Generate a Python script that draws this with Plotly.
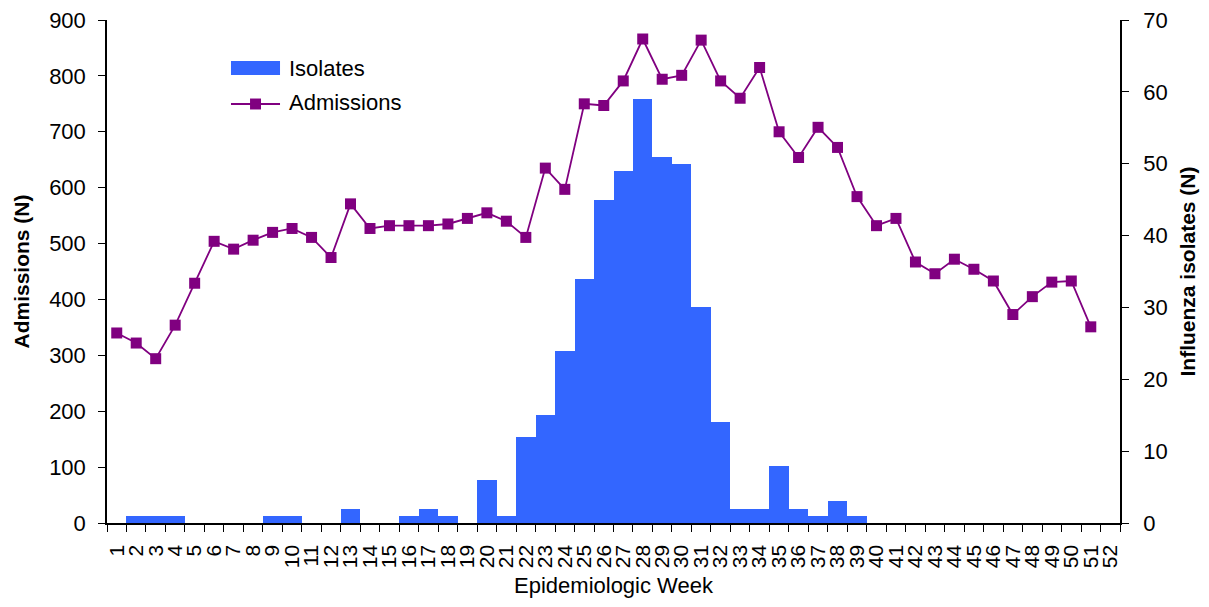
import plotly.graph_objects as go

weeks = [str(i) for i in range(1, 53)]

isolates = [0, 1, 1, 1, 0, 0, 0, 0, 1, 1,
            0, 0, 2, 0, 0, 1, 2, 1, 0, 6,
            1, 12, 15, 24, 34, 45, 49, 59, 51, 50,
            30, 14, 2, 2, 8, 2, 1, 3, 1, 0,
            0, 0, 0, 0, 0, 0, 0, 0, 0, 0,
            0, 0]

admissions = [340, 322, 294, 354, 429, 504, 490, 506, 520, 527,
              511, 475, 571, 527, 532, 532, 532, 535, 545, 555,
              540, 511, 635, 597, 750, 747, 791, 866, 794, 801,
              864, 791, 760, 815, 700, 654, 708, 672, 584, 532,
              545, 467, 446, 472, 454, 433, 373, 405, 431, 433,
              351, None]

FONT = "Liberation Sans, Arial, sans-serif"
BLUE = "#3366FF"
PURPLE = "#800080"

fig = go.Figure()
fig.add_trace(go.Bar(
    x=weeks, y=isolates, name="Isolates",
    marker=dict(color=BLUE, line=dict(width=0)),
    yaxis="y", showlegend=False,
))
fig.add_trace(go.Scatter(
    x=weeks, y=admissions, name="Admissions", mode="lines+markers",
    line=dict(color=PURPLE, width=1.8),
    marker=dict(symbol="square", size=11, color=PURPLE),
    yaxis="y2", showlegend=False,
))

# custom legend (paper coordinates)
lx0, lx1 = 0.1224, 0.1708
lxm = (lx0 + lx1) / 2
shapes = [
    dict(type="rect", xref="paper", yref="paper", x0=lx0, x1=lx1, y0=0.8907, y1=0.9185,
         fillcolor=BLUE, line=dict(width=0)),
    dict(type="line", xref="paper", yref="paper", x0=lx0, x1=lx1, y0=0.833, y1=0.833,
         line=dict(color=PURPLE, width=1.8)),
    dict(type="rect", xref="paper", yref="paper", x0=lxm - 0.0054, x1=lxm + 0.0054,
         y0=0.833 - 0.0109, y1=0.833 + 0.0109, fillcolor=PURPLE, line=dict(width=0)),
]
annotations = [
    dict(text="Isolates", xref="paper", yref="paper", x=0.1777, y=0.9026,
         xanchor="left", yanchor="middle", showarrow=False, font=dict(size=22, family=FONT)),
    dict(text="Admissions", xref="paper", yref="paper", x=0.1777, y=0.835,
         xanchor="left", yanchor="middle", showarrow=False, font=dict(size=22, family=FONT)),
]

# tick labels padded so they sit a little below the ticks
tick_text = [w + "\u00a0\u00a0" for w in weeks]

fig.update_layout(
    width=1201, height=599,
    margin=dict(l=99, r=89, t=12, b=84),
    paper_bgcolor="white", plot_bgcolor="white",
    font=dict(family=FONT, color="black", size=20),
    bargap=0,
    showlegend=False,
    shapes=shapes, annotations=annotations,
    xaxis=dict(
        type="category", range=[-0.5, 51.5], automargin=False,
        tickmode="array", tickvals=weeks, ticktext=tick_text,
        showline=True, linecolor="black", linewidth=1.5,
        ticks="outside", tickson="boundaries", ticklen=7, tickcolor="black",
        tickangle=-90, tickfont=dict(size=21, family=FONT),
        ticklabeloverflow="allow",
        title=dict(text="Epidemiologic Week", font=dict(size=22, family=FONT), standoff=10),
        showgrid=False, zeroline=False,
    ),
    yaxis=dict(
        side="right", range=[0, 70], tickvals=[0, 10, 20, 30, 40, 50, 60, 70],
        automargin=False, ticklabeloverflow="allow",
        showline=True, linecolor="black", linewidth=1.5,
        ticks="outside", ticklen=7, tickcolor="black",
        tickfont=dict(size=22, family=FONT), ticklabelstandoff=10,
        title=dict(text="<b>Influenza isolates (N)</b>", font=dict(size=21, family=FONT), standoff=14),
        showgrid=False, zeroline=False,
    ),
    yaxis2=dict(
        overlaying="y", side="left", range=[0, 900],
        tickvals=[0, 100, 200, 300, 400, 500, 600, 700, 800, 900],
        automargin=False, ticklabeloverflow="allow",
        showline=True, linecolor="black", linewidth=1.5,
        ticks="outside", ticklen=7, tickcolor="black",
        tickfont=dict(size=22, family=FONT), ticklabelstandoff=8,
        title=dict(text="<b>Admissions (N)</b>", font=dict(size=21, family=FONT), standoff=14),
        showgrid=False, zeroline=False,
    ),
)

fig.write_html("out.html")
